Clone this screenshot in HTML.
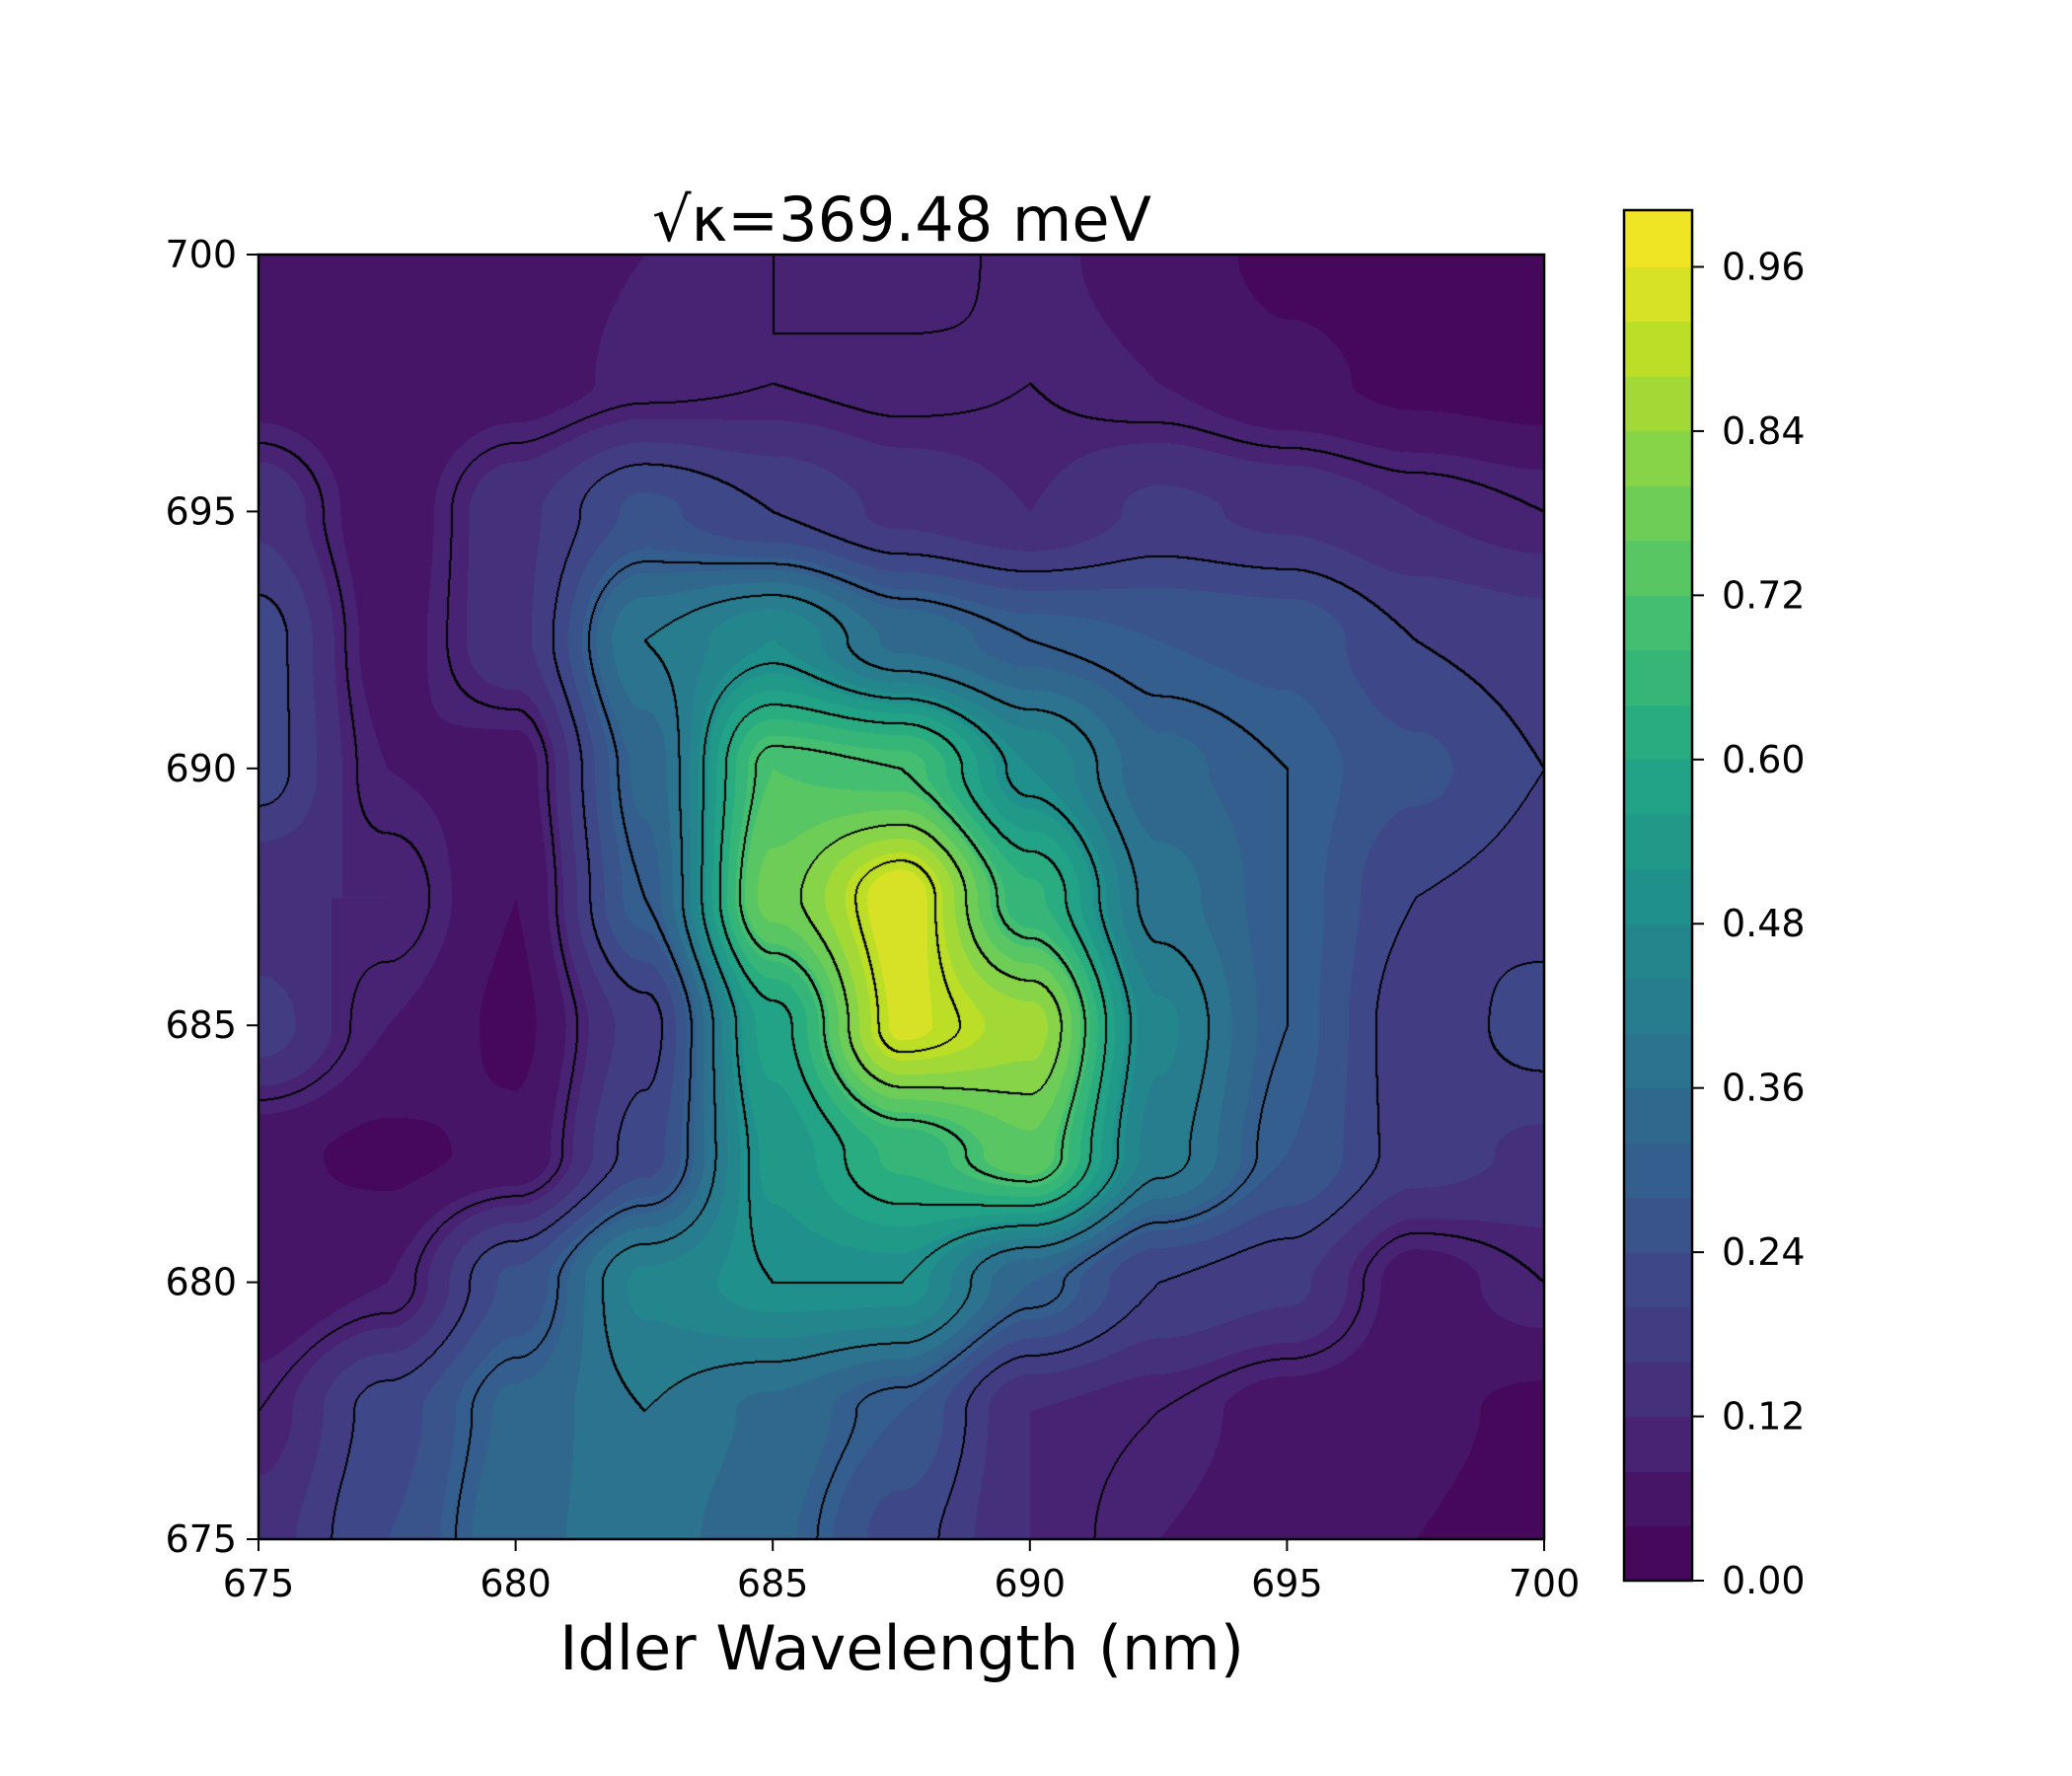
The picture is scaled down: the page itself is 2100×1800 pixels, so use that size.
<!DOCTYPE html>
<html><head><meta charset="utf-8"><style>
body{margin:0;background:#fff;width:2100px;height:1800px;overflow:hidden}
svg{position:absolute;left:0;top:0}
canvas{position:absolute}
text{font-family:"DejaVu Sans","Liberation Sans",sans-serif;fill:#000}
</style></head><body>
<canvas id="heat" width="1303" height="1302" style="left:262px;top:258px"></canvas>
<canvas id="cbar" width="69" height="1389" style="left:1646px;top:213px"></canvas>
<svg id="ov" width="2100" height="1800">
<text x="661" y="244" font-size="62" textLength="506" lengthAdjust="spacingAndGlyphs">√κ=369.48 meV</text>
<text x="914" y="1692" font-size="62" text-anchor="middle">Idler Wavelength (nm)</text>
<rect x="262" y="258" width="1303" height="1302" fill="none" stroke="#000" stroke-width="2.5"/>
<rect x="1646" y="213" width="69" height="1389" fill="none" stroke="#000" stroke-width="2.5"/>
<g id="ticks"></g>
</svg>
<script>
const xs=[675,677.5,680,682.5,685,687.5,690,692.5,695,697.5,700];
const ys=[700,697.5,695,692.5,690,687.5,685,682.5,680,677.5,675];
const row700=[0.05,0.04,0.06,0.08,0.10,0.12,0.09,0.06,0.03,0.02,0.02];
const row697=[0.06,0.04,0.06,0.09,0.10,0.09,0.10,0.08,0.05,0.03,0.02];
const row695=[0.15,0.05,0.15,0.25,0.20,0.15,0.12,0.17,0.15,0.12,0.10];
const row692=[0.22,0.06,0.15,0.40,0.48,0.35,0.30,0.28,0.27,0.20,0.18];
const row690=[0.22,0.08,0.06,0.33,0.72,0.70,0.48,0.33,0.30,0.25,0.20];
const row687=[0.12,0.12,0.04,0.30,0.78,0.95,0.65,0.38,0.30,0.20,0.18];
const row685=[0.18,0.08,0.03,0.18,0.58,0.93,0.86,0.45,0.30,0.17,0.22];
const row682=[0.05,0.03,0.05,0.22,0.53,0.65,0.75,0.42,0.28,0.18,0.15];
const row680=[0.04,0.08,0.25,0.45,0.50,0.50,0.32,0.20,0.17,0.06,0.10];
const row677=[0.10,0.22,0.33,0.40,0.35,0.28,0.12,0.10,0.06,0.05,0.03];
const row675=[0.14,0.24,0.35,0.38,0.33,0.22,0.12,0.08,0.05,0.04,0.02];
const grid=[row700,row697,row695,row692,row690,row687,row685,row682,row680,row677,row675];
const xTicks=[675,680,685,690,695,700];
const yTicks=[675,680,685,690,695,700];
const cTicks=[0,0.12,0.24,0.36,0.48,0.60,0.72,0.84,0.96];
const X0=262,X1=1565,Y0=258,Y1=1560;
const xScale=v=>X0+(v-675)/25*(X1-X0);
const yScale=v=>Y1-(v-675)/25*(Y1-Y0);
const cScale=v=>1602-v*1387;
const vstops=[[0,[68,1,84]],[0.1,[72,35,116]],[0.2,[64,67,135]],[0.3,[52,94,141]],[0.4,[41,120,142]],[0.5,[32,144,140]],[0.6,[34,167,132]],[0.7,[68,190,112]],[0.8,[121,209,81]],[0.9,[189,222,38]],[1,[253,231,37]]];
function vir(t){t=Math.max(0,Math.min(1,t));for(let i=1;i<vstops.length;i++){if(t<=vstops[i][0]){const a=vstops[i-1],b=vstops[i];const f=(t-a[0])/(b[0]-a[0]);return a[1].map((c,k)=>Math.round(c+(b[1][k]-c)*f));}}return vstops[vstops.length-1][1];}
const vmax=1.0,step=0.04;
function field(px,py){
  const fx=(px-xs[0])/(xs[1]-xs[0]);const fy=(ys[0]-py)/(ys[0]-ys[1]);
  let i=Math.min(Math.floor(fx),xs.length-2),j=Math.min(Math.floor(fy),ys.length-2);
  let u=fx-i,v=fy-j;u=u*u*(3-2*u);v=v*v*(3-2*v);
  const a=grid[j][i],b=grid[j][i+1],c=grid[j+1][i],d=grid[j+1][i+1];
  return a*(1-u)*(1-v)+b*u*(1-v)+c*(1-u)*v+d*u*v;}
const hc=document.getElementById('heat');const W=hc.width,H=hc.height;const ctx=hc.getContext('2d');
const img=ctx.createImageData(W,H);const lv=new Int16Array(W*H);
for(let y=0;y<H;y++)for(let x=0;x<W;x++){const v=field(675+x/W*25,700-y/H*25);lv[y*W+x]=Math.floor(v/0.1);const q=(Math.floor(v/step)+0.5)*step;const col=vir(q/vmax);const o=(y*W+x)*4;img.data[o]=col[0];img.data[o+1]=col[1];img.data[o+2]=col[2];img.data[o+3]=255;}
for(let y=1;y<H-1;y++)for(let x=1;x<W-1;x++){const l=lv[y*W+x];if(l!==lv[y*W+x+1]||l!==lv[(y+1)*W+x]){for(const[dx,dy]of[[0,0],[1,0],[0,1]]){const o=((y+dy)*W+x+dx)*4;img.data[o]=0;img.data[o+1]=0;img.data[o+2]=0;}}}
ctx.putImageData(img,0,0);
const cb=document.getElementById('cbar').getContext('2d');
for(let y=0;y<1389;y++){const v=(1602-(213+y))/1387;const q=(Math.floor(v/step)+0.5)*step;const c=vir(q);cb.fillStyle=`rgb(${c[0]},${c[1]},${c[2]})`;cb.fillRect(0,y,69,1);}
const g=document.getElementById('ticks');const NS='http://www.w3.org/2000/svg';
function mk(tag,attrs,txt){const e=document.createElementNS(NS,tag);for(const k in attrs)e.setAttribute(k,attrs[k]);if(txt!==undefined)e.textContent=txt;g.appendChild(e);return e;}
xTicks.forEach(t=>{const x=xScale(t);
 const l=mk('line',{x1:x,x2:x,y1:1560,y2:1572,stroke:'#000','stroke-width':2});
 
 
 const tx=mk('text',{x:x,y:1618,'font-size':38,'text-anchor':'middle'},String(t));
 
 });
yTicks.forEach(t=>{const y=yScale(t);
 const l=mk('line',{x1:250,x2:262,y1:y,y2:y,stroke:'#000','stroke-width':2});
 
 
 const tx=mk('text',{x:240,y:y+13,'font-size':38,'text-anchor':'end'},String(t));
 
 });
cTicks.forEach(t=>{const y=cScale(t);
 const l=mk('line',{x1:1715,x2:1727,y1:y,y2:y,stroke:'#000','stroke-width':2});
 
 
 const tx=mk('text',{x:1745,y:y+13,'font-size':38},t.toFixed(2));
 
 });
</script>
</body></html>
